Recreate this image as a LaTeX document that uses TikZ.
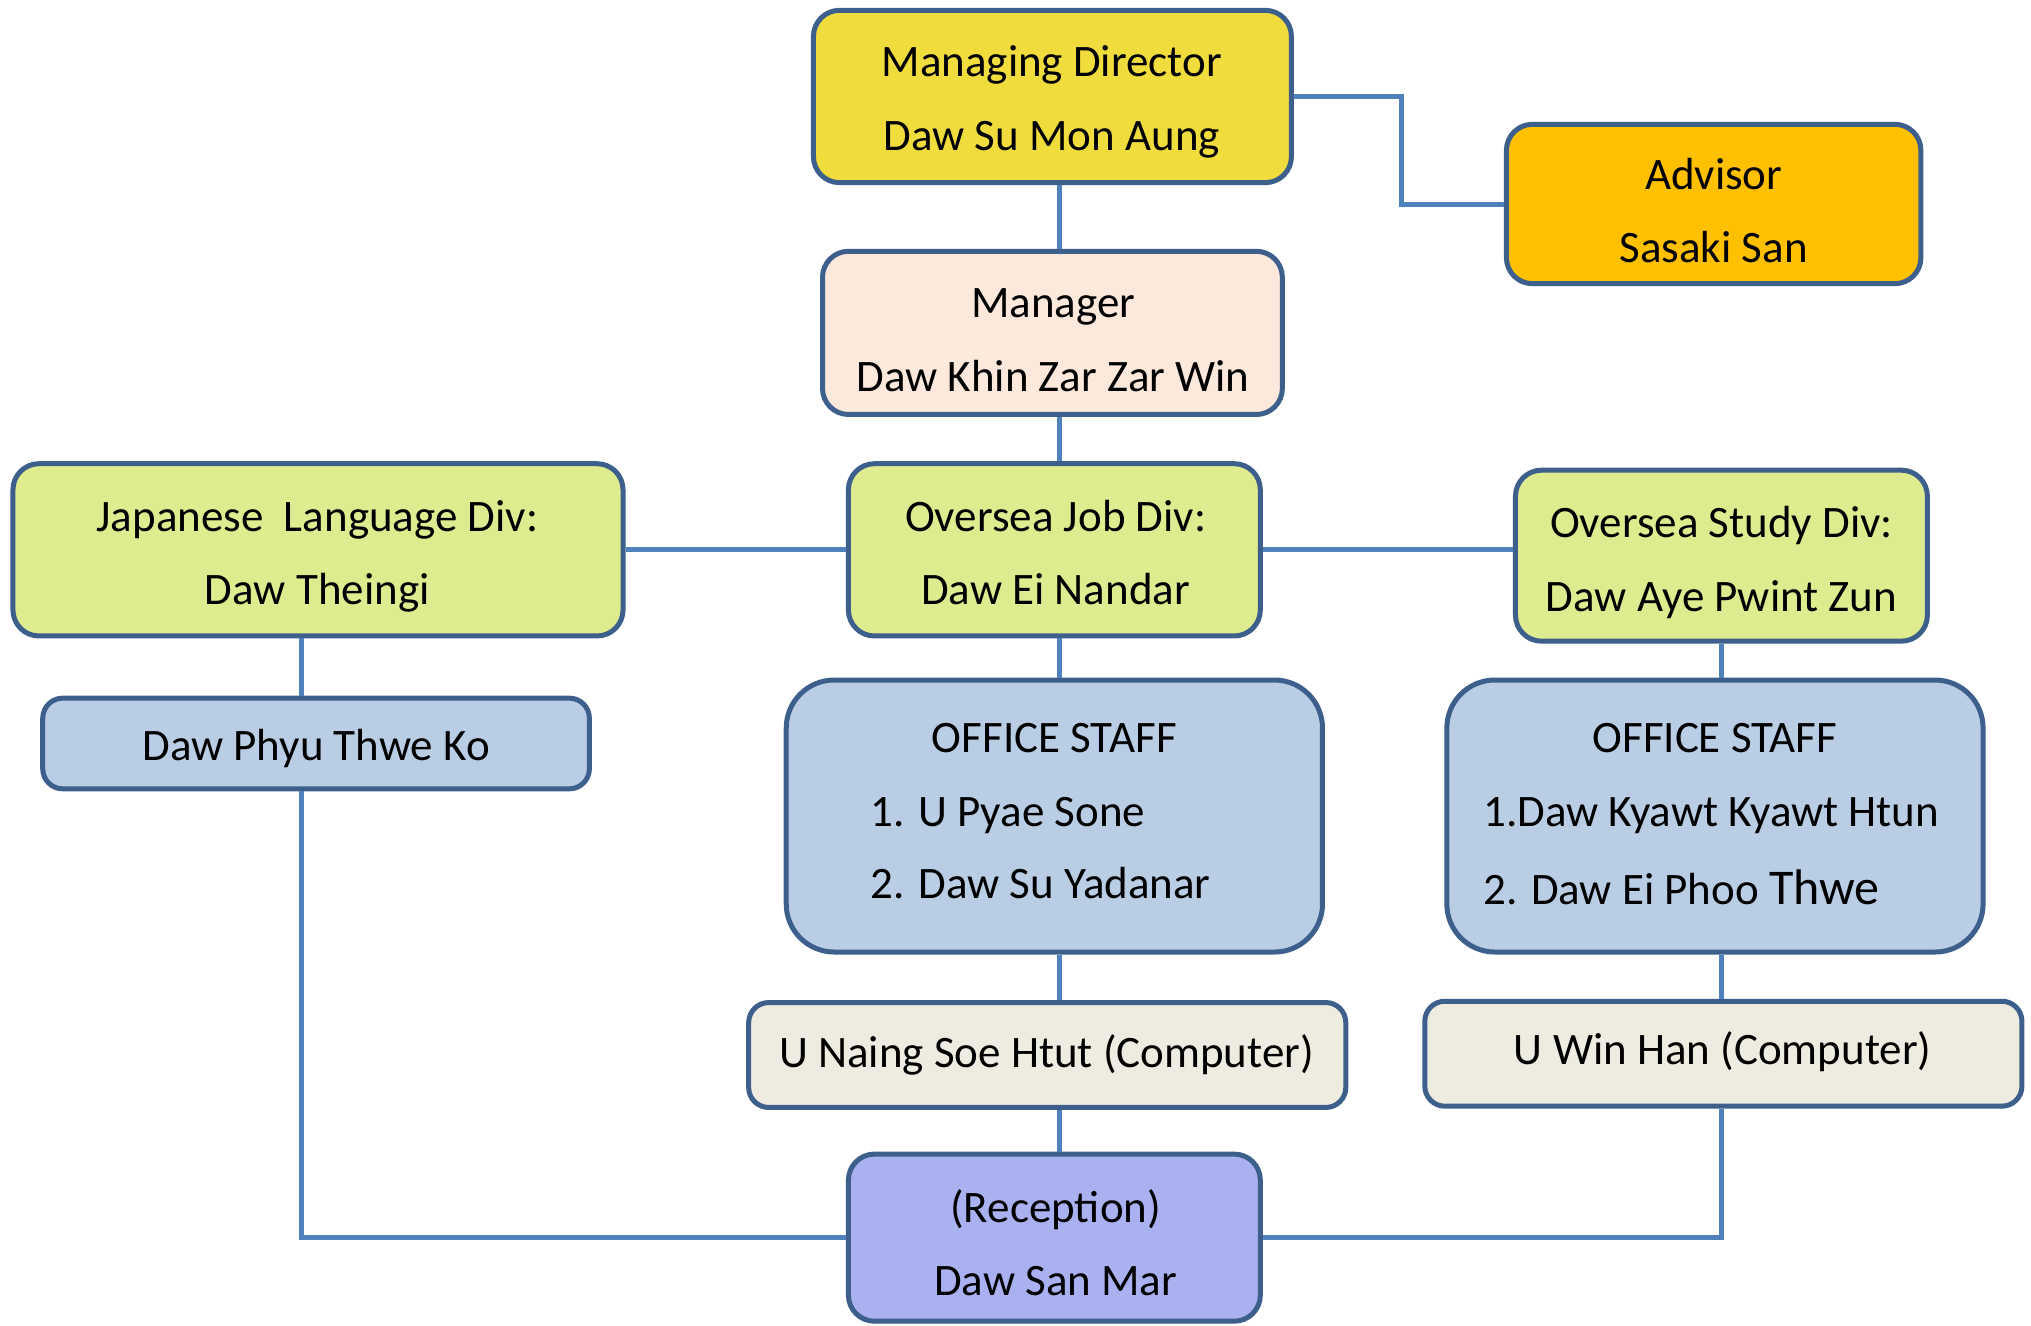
\documentclass[tikz,border=0pt]{standalone}
\usepackage{fontspec}
\setmainfont{Carlito}
\usetikzlibrary{fit}
\definecolor{bordc}{HTML}{3C5F8C}
\definecolor{connc}{HTML}{4F81BD}
\definecolor{mdfill}{HTML}{F1DC3D}
\definecolor{advfill}{HTML}{FFC000}
\definecolor{mgrfill}{HTML}{FDE9DB}
\definecolor{grnfill}{HTML}{DFEB8F}
\definecolor{bluefill}{HTML}{B9CDE5}
\definecolor{begfill}{HTML}{EEECE1}
\definecolor{recfill}{HTML}{A9B1F1}
\begin{document}
\begin{tikzpicture}[x=1.2953pt,y=-1.2953pt,
 box/.style={draw=bordc, line width=5pt, rounded corners=26pt, inner sep=0pt},
 bigbox/.style={box, rounded corners=48pt},
 smallbox/.style={box, rounded corners=20pt},
 conn/.style={draw=connc, line width=5pt},
 lbl/.style={anchor=base, inner sep=0pt, font=\fontsize{45}{50}\selectfont},
 lbll/.style={lbl, anchor=base west}]
\useasboundingbox (0,0) rectangle (1568,1023);
\coordinate (spine) at (818,0);
\coordinate (lspine) at (233,0);
\coordinate (rspine) at (1329,0);
% boxes
\node[box, fill=mdfill, fit={(628,8)(997,141)}] (md) {};
\node[box, fill=advfill, fit={(1163,96)(1483,219)}] (adv) {};
\node[box, fill=mgrfill, fit={(635,194)(990,320)}] (mgr) {};
\node[box, fill=grnfill, fit={(10,358)(481,491)}] (jp) {};
\node[box, fill=grnfill, fit={(655,358)(973,491)}] (job) {};
\node[box, fill=grnfill, fit={(1170,363)(1488,495)}] (study) {};
\node[smallbox, fill=bluefill, fit={(33,539)(455,609)}] (phyu) {};
\node[bigbox, fill=bluefill, fit={(607,525)(1021,735)}] (offm) {};
\node[bigbox, fill=bluefill, fit={(1117,525)(1531,735)}] (offr) {};
\node[smallbox, fill=begfill, fit={(578,774)(1039,855)}] (naing) {};
\node[smallbox, fill=begfill, fit={(1100,773)(1561,854)}] (win) {};
\node[box, fill=recfill, fit={(655,891)(973,1020)}] (rec) {};
% texts
\node[lbl] (mdt1) at (812,59) {Managing Director};
\node[lbl] (mdt2) at (812,116) {Daw Su Mon Aung};
\node[lbl] (advt1) at (1323,146) {Advisor};
\node[lbl] (advt2) at (1323,203) {Sasaki San};
\node[lbl] (mgrt1) at (813,245) {Manager};
\node[lbl] (mgrt2) at (813,302) {Daw Khin Zar Zar Win};
\node[lbl] (jpt1) at (245,410) {Japanese\ \ Language Div:};
\node[lbl] (jpt2) at (245,467) {Daw Theingi};
\node[lbl] (jobt1) at (815,410) {Oversea Job Div:};
\node[lbl] (jobt2) at (815,467) {Daw Ei Nandar};
\node[lbl] (studyt1) at (1329,415) {Oversea Study Div:};
\node[lbl] (studyt2) at (1329,472) {Daw Aye Pwint Zun};
\node[lbl] (phyut) at (244,587) {Daw Phyu Thwe Ko};
\node[lbl] (offmt1) at (814,581) {OFFICE STAFF};
\node[lbll] (offmt2) at (672,638) {1. U Pyae Sone};
\node[lbll] (offmt3) at (672,694) {2. Daw Su Yadanar};
\node[lbl] (offrt1) at (1324,581) {OFFICE STAFF};
\node[lbll] (offrt2) at (1145,638) {1.Daw Kyawt Kyawt Htun};
\node[lbll] (offrt3) at (1145,698) {2. Daw Ei Phoo {\fontsize{50}{56}\selectfont Thwe}};
\node[lbl] (naingt) at (808,824) {U Naing Soe Htut (Computer)};
\node[lbl] (wint) at (1330,822) {U Win Han (Computer)};
\node[lbl] (rect1) at (815,944) {(Reception)};
\node[lbl] (rect2) at (815,1000) {Daw San Mar};
% connectors
\draw[conn] (md.south -| spine) -- (mgr.north -| spine);
\draw[conn] (md.east) -- ++(83,0) |- (adv.west);
\draw[conn] (mgr.south -| spine) -- (job.north -| spine);
\draw[conn] (jp.east) -- (job.west);
\draw[conn] (job.east) -- (job.east -| study.west);
\draw[conn] (jp.south -| lspine) -- (phyu.north -| lspine);
\draw[conn] (job.south -| spine) -- (offm.north -| spine);
\draw[conn] (study.south -| rspine) -- (offr.north -| rspine);
\draw[conn] (offm.south -| spine) -- (naing.north -| spine);
\draw[conn] (offr.south -| rspine) -- (win.north -| rspine);
\draw[conn] (naing.south -| spine) -- (rec.north -| spine);
\draw[conn] (phyu.south -| lspine) |- (rec.west);
\draw[conn] (win.south -| rspine) |- (rec.east);
\end{tikzpicture}
\end{document}
